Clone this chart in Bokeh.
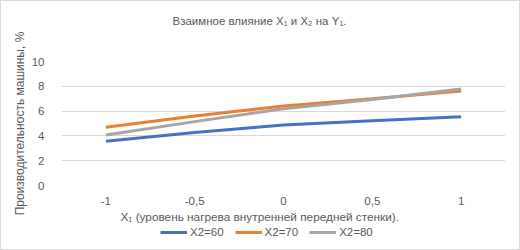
from bokeh.plotting import figure
from bokeh.layouts import column
from bokeh.models import FactorRange, Range1d, FixedTicker, Title, Legend, LegendItem
from bokeh.embed import file_html
from bokeh.resources import INLINE

categories = ["-1", "-0,5", "0", "0,5", "1"]
y_x2_60 = [3.57, 4.27, 4.88, 5.22, 5.55]
y_x2_70 = [4.69, 5.6, 6.42, 7.0, 7.63]
y_x2_80 = [4.08, 5.15, 6.19, 6.93, 7.79]
series_names = ["X2=60", "X2=70", "X2=80"]
colors = ["#4472C4", "#ED7D31", "#A5A5A5"]
y_ticks = [0, 2, 4, 6, 8, 10]
series = [y_x2_60, y_x2_70, y_x2_80]

FONT = "Liberation Sans"
TXT = "#595959"

p = figure(width=518, height=222, x_range=FactorRange(*categories), y_range=Range1d(0, 10),
           title=None, output_backend="svg", toolbar_location=None,
           min_border_left=60, min_border_right=14, min_border_top=60, min_border_bottom=37)
p.outline_line_color = None

spacer = Title(text=" ", standoff=21, text_font=FONT, text_font_size="11.5px")
p.add_layout(spacer, "above")
main_title = Title(text="Взаимное влияние  X\u2081 и X\u2082 на Y\u2081.",
                   align="left", offset=111, standoff=0,
                   text_font=FONT, text_font_size="11.5px", text_font_style="normal", text_color=TXT)
p.add_layout(main_title, "above")

renderers = []
for ys, c in zip(series, colors):
    r = p.line(categories, ys, line_color=c, line_width=3)
    renderers.append(r)

p.xgrid.grid_line_color = None
p.ygrid.grid_line_color = "#d9d9d9"
p.yaxis.ticker = FixedTicker(ticks=y_ticks)

for ax in (p.xaxis[0], p.yaxis[0]):
    ax.axis_line_color = None
    ax.major_tick_line_color = None
    ax.minor_tick_line_color = None
    ax.major_label_text_font = FONT
    ax.major_label_text_font_size = "11.5px"
    ax.major_label_text_color = TXT
    ax.axis_label_text_font = FONT
    ax.axis_label_text_font_size = "12px"
    ax.axis_label_text_font_style = "normal"
    ax.axis_label_text_color = TXT

p.xaxis.major_label_standoff = 5
p.yaxis.major_label_standoff = 11
p.yaxis.axis_label = "Производительность машины, %"
p.yaxis.axis_label_standoff = 2

xlab = Title(text="X\u2081 (уровень  нагрева внутренней  передней  стенки).",
             align="left", offset=59, standoff=0,
             text_font=FONT, text_font_size="11.8px", text_font_style="normal", text_color=TXT)
p.add_layout(xlab, "below")

# legend strip: same series, drawn outside the visible y range so only the legend shows
q = figure(width=518, height=26, x_range=FactorRange(*categories), y_range=Range1d(100, 101),
           output_backend="svg", toolbar_location=None,
           x_axis_location=None, y_axis_location=None, min_border=0)
q.outline_line_color = None
q.xgrid.visible = False
q.ygrid.visible = False
leg_renderers = [q.line(categories, ys, line_color=c, line_width=3) for ys, c in zip(series, colors)]
legend = Legend(items=[LegendItem(label=n, renderers=[r]) for n, r in zip(series_names, leg_renderers)],
                orientation="horizontal", location=(99, 11),
                label_text_font=FONT, label_text_font_size="11.5px", label_text_color=TXT,
                glyph_width=27, glyph_height=10, label_standoff=3, spacing=11,
                padding=1, margin=0, border_line_color=None, background_fill_alpha=0)
q.add_layout(legend, "center")

layout = column(p, q, spacing=0, styles={"border": "1px solid #d9d9d9"})

open("out.html", "w").write(file_html(layout, INLINE))
